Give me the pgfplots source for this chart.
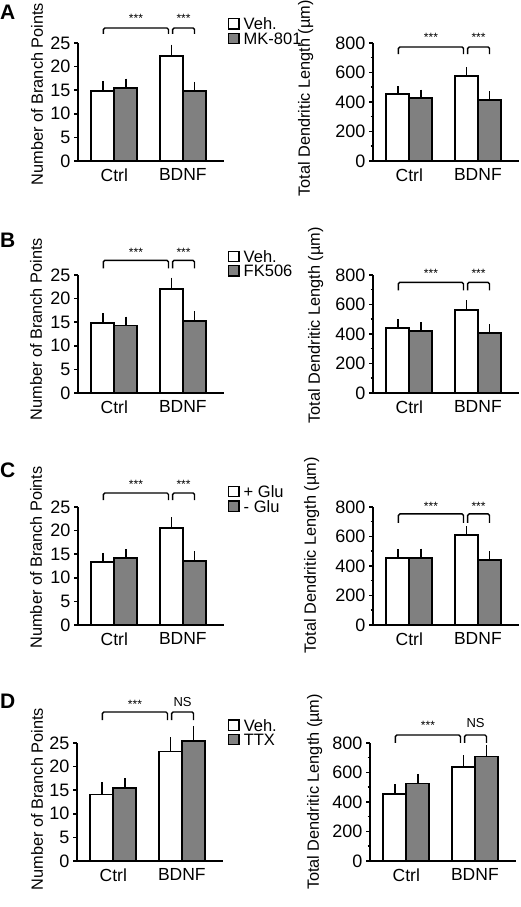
\documentclass[border=0pt]{standalone}
\usepackage{fontspec}
\setmainfont{Liberation Sans}
\usepackage{pgfplots}
\pgfplotsset{compat=1.18}
\definecolor{barg}{RGB}{128,128,128}
\pgfplotsset{
  sqlegend/.style={legend image code/.code={\draw[##1,/tikz/.cd,line width=1.4pt] (0pt,-5.2pt) rectangle (10.4pt,5.2pt);}},
  panel/.style={
    scale only axis, width=146pt, height=118pt,
    axis x line=bottom, axis y line=left,
    axis line style={line width=1.9pt,-},
    xmin=-0.53, xmax=1.6, ymin=0,
    xtick={0,1}, xticklabels={Ctrl,BDNF},
    xtick style={draw=none},
    ytick style={line width=1.5pt, black},
    tick align=outside, major tick length=4pt, minor tick length=2.5pt,
    ybar=0pt, bar width=23pt,
    clip=false,
    /pgf/number format/assume math mode=true,
    tick label style={font=\fontsize{18}{18}\selectfont},
    xticklabel style={font=\fontsize{17.5}{17.5}\selectfont},
    ylabel style={font=\fontsize{16.3}{16.3}\selectfont, anchor=center},
    legend style={draw=none, fill=none, inner sep=0pt, outer sep=0pt, anchor=north west,
      cells={anchor=west}, nodes={inner sep=0pt, text height=12pt, text depth=0pt, font=\fontsize{16.5}{16.5}\selectfont},
      row sep=2.5pt, column sep=4pt},
    every axis plot post/.append style={sqlegend},
  },
  bpanel/.style={panel, ymax=25, ytick={0,5,...,25}, ylabel={Number of Branch Points}},
  lpanel/.style={panel, ymax=800, ytick={0,200,...,800}, minor ytick={100,300,500,700}, ylabel={Total Dendritic Length (µm)}},
  errs/.style={error bars/.cd, y dir=plus, y explicit,
    error bar style={line width=1.5pt, black, solid},
    error mark options={mark size=4.5pt, line width=1.5pt, black}},
  veh/.style={fill=white, draw=black, line width=1.8pt, errs},
  trt/.style={fill=barg, draw=black, line width=1.8pt, errs},
}
\newcommand{\brk}[4]{\draw[line width=1.4pt, rounded corners=1.5pt] (axis cs:#1,#4) |- (axis cs:#2,#3) -- (axis cs:#2,#4);}
\newcommand{\stars}[3]{\node[font=\fontsize{12}{12}\selectfont, anchor=base, inner sep=0pt] at (axis cs:#1,#2) {#3};}
\newcommand{\ns}[2]{\node[font=\fontsize{13}{13}\selectfont, anchor=base, inner sep=0pt] at (axis cs:#1,#2) {NS};}
\begin{document}
\begin{tikzpicture}[x=1pt,y=1pt]
\useasboundingbox (0,0) rectangle (520,907);
\node[font=\bfseries\fontsize{21}{21}\selectfont, anchor=west, inner sep=0pt] at (0,894.5) {A};
\node[font=\bfseries\fontsize{21}{21}\selectfont, anchor=west, inner sep=0pt] at (0,667) {B};
\node[font=\bfseries\fontsize{21}{21}\selectfont, anchor=west, inner sep=0pt] at (0,437) {C};
\node[font=\bfseries\fontsize{21}{21}\selectfont, anchor=west, inner sep=0pt] at (0,206) {D};

% ---------- A ----------
\begin{axis}[bpanel, at={(78pt,864pt)}, anchor=north west,
  ylabel style={at={(axis description cs:-0.281,0.568)}},
  legend style={at={(axis description cs:1.027,1.212)}}]
\addplot[veh] coordinates {(0,14.9) += (0,1.1) (1,22.2) += (0,1.5)};
\addplot[trt] coordinates {(0,15.5) += (0,1.0) (1,14.8) += (0,1.0)};
\legend{Veh.,MK-801}
\brk{-0.16}{0.79}{28.18}{26.91}
\brk{0.85}{1.17}{28.18}{26.91}
\stars{0.315}{29.3}{***}
\stars{1.01}{29.3}{***}
\end{axis}
\begin{axis}[lpanel, at={(373pt,864pt)}, anchor=north west,
  ylabel style={at={(axis description cs:-0.462,0.53)}}]
\addplot[veh] coordinates {(0,452) += (0,25) (1,574) += (0,31)};
\addplot[trt] coordinates {(0,429) += (0,25) (1,414) += (0,29)};
\brk{-0.16}{0.79}{773}{725}
\brk{0.85}{1.17}{773}{725}
\stars{0.315}{809}{***}
\stars{1.01}{809}{***}
\end{axis}

% ---------- B ----------
\begin{axis}[bpanel, at={(78pt,632pt)}, anchor=north west,
  ylabel style={at={(axis description cs:-0.288,0.541)}},
  legend style={at={(axis description cs:1.027,1.208)}}]
\addplot[veh] coordinates {(0,14.9) += (0,1.0) (1,22.1) += (0,1.4)};
\addplot[trt] coordinates {(0,14.3) += (0,0.9) (1,15.3) += (0,1.1)};
\legend{Veh.,FK506}
\brk{-0.16}{0.79}{28.1}{26.4}
\brk{0.85}{1.17}{28.1}{26.4}
\stars{0.315}{29.0}{***}
\stars{1.01}{29.0}{***}
\end{axis}
\begin{axis}[lpanel, at={(373pt,632pt)}, anchor=north west,
  ylabel style={at={(axis description cs:-0.393,0.574)}}]
\addplot[veh] coordinates {(0,442) += (0,27) (1,565) += (0,34)};
\addplot[trt] coordinates {(0,420) += (0,29) (1,404) += (0,32)};
\brk{-0.16}{0.79}{750}{696}
\brk{0.85}{1.17}{750}{696}
\stars{0.315}{780}{***}
\stars{1.01}{780}{***}
\end{axis}

% ---------- C ----------
\begin{axis}[bpanel, at={(78pt,400pt)}, anchor=north west,
  ylabel style={at={(axis description cs:-0.288,0.573)}},
  legend style={at={(axis description cs:1.027,1.182)}}]
\addplot[veh] coordinates {(0,13.4) += (0,0.9) (1,20.5) += (0,1.4)};
\addplot[trt] coordinates {(0,14.2) += (0,0.9) (1,13.6) += (0,1.1)};
\legend{+ Glu,- Glu}
\brk{-0.16}{0.79}{27.97}{26.48}
\brk{0.85}{1.17}{27.97}{26.48}
\stars{0.315}{29.0}{***}
\stars{1.01}{29.0}{***}
\end{axis}
\begin{axis}[lpanel, at={(373pt,400pt)}, anchor=north west,
  ylabel style={at={(axis description cs:-0.421,0.59)}}]
\addplot[veh] coordinates {(0,455) += (0,28) (1,608) += (0,32)};
\addplot[trt] coordinates {(0,455) += (0,32) (1,438) += (0,32)};
\brk{-0.16}{0.79}{753}{692}
\brk{0.85}{1.17}{753}{692}
\stars{0.315}{775}{***}
\stars{1.01}{775}{***}
\end{axis}

% ---------- D ----------
\begin{axis}[bpanel, at={(77pt,164pt)}, anchor=north west,
  ylabel style={at={(axis description cs:-0.274,0.525)}},
  legend style={at={(axis description cs:1.034,1.203)}}]
\addplot[veh] coordinates {(0,14.1) += (0,1.6) (1,23.2) += (0,2.1)};
\addplot[trt] coordinates {(0,15.5) += (0,1.1) (1,25.4) += (0,2.3)};
\legend{Veh.,TTX}
\brk{-0.16}{0.79}{31.57}{29.87}
\brk{0.85}{1.17}{31.57}{29.87}
\stars{0.315}{32.27}{***}
\ns{1.01}{32.7}
\end{axis}
\begin{axis}[lpanel, at={(370pt,164pt)}, anchor=north west,
  ylabel style={at={(axis description cs:-0.379,0.585)}}]
\addplot[veh] coordinates {(0,452) += (0,38) (1,635) += (0,50)};
\addplot[trt] coordinates {(0,525) += (0,35) (1,708) += (0,50)};
\brk{-0.16}{0.79}{854}{800}
\brk{0.85}{1.17}{854}{800}
\stars{0.315}{890}{***}
\ns{1.01}{903}
\end{axis}
\end{tikzpicture}
\end{document}
